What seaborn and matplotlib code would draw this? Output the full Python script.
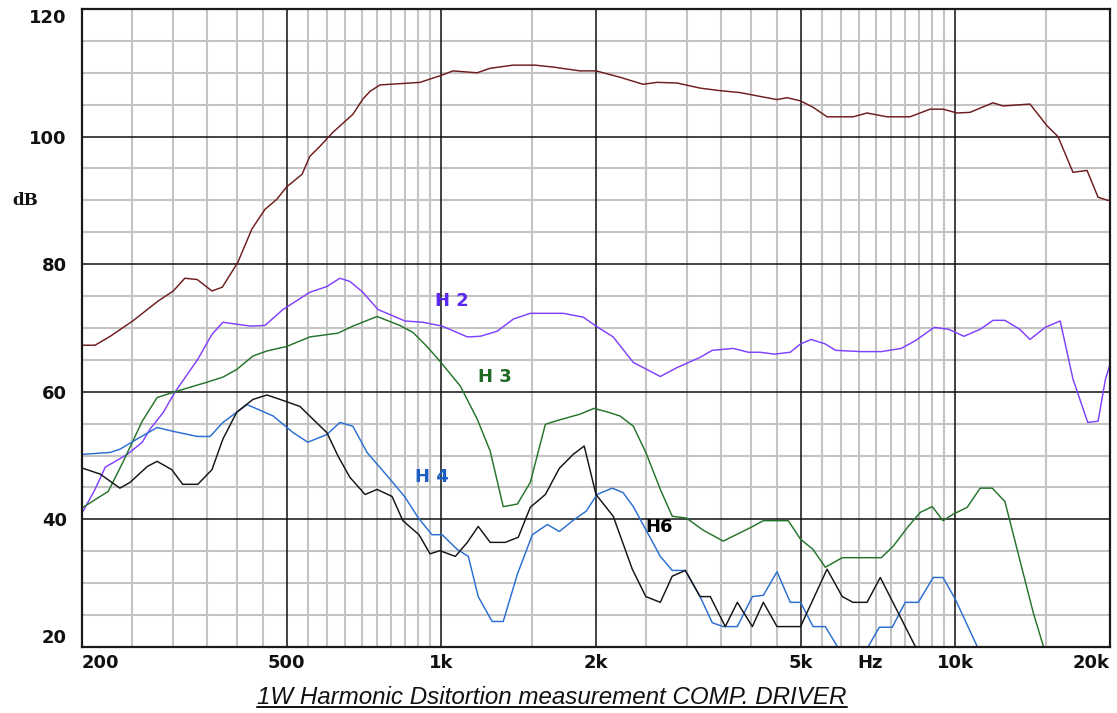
import matplotlib
matplotlib.use("Agg")
import matplotlib.pyplot as plt
import seaborn as sns
import pandas as pd
from matplotlib.lines import Line2D

# ---------------- data ----------------
resp_f = [200, 212, 227, 251, 281, 301, 317, 335, 358, 375, 402, 428, 454, 479, 500, 536, 555, 581, 616, 673,
          704, 727, 760, 909, 1000, 1054, 1174, 1244, 1379, 1521, 1650, 1862, 2000, 2228, 2469, 2629, 2876, 3188,
          3487, 3812, 4170, 4500, 4706, 5000, 5288, 5630, 6325, 6735, 7366, 8165, 8932, 9465, 10078, 10683, 11842,
          12383, 13975, 15083, 15844, 16943, 18045, 18957, 19820, 20000]
resp_db = [67.3, 67.3, 68.7, 71.1, 74.2, 75.8, 77.8, 77.6, 75.8, 76.4, 80.3, 85.5, 88.6, 90.2, 92.1, 94.1, 96.9,
           98.5, 100.7, 103.5, 105.9, 107.1, 108.1, 108.5, 109.6, 110.3, 110.0, 110.7, 111.2, 111.2, 110.9, 110.3,
           110.3, 109.3, 108.2, 108.5, 108.4, 107.6, 107.2, 106.9, 106.3, 105.8, 106.1, 105.6, 104.6, 103.1, 103.1,
           103.7, 103.1, 103.1, 104.3, 104.3, 103.7, 103.8, 105.3, 104.8, 105.1, 101.7, 100.0, 94.4, 94.7, 90.5,
           90.0, 90.0]

h2_f = [201, 212, 222, 230, 245, 262, 271, 288, 303, 336, 358, 376, 425, 454, 492, 555, 599, 635, 664, 704, 753,
        850, 921, 1004, 1124, 1191, 1285, 1381, 1490, 1727, 1889, 2000, 2160, 2364, 2668, 2876, 3188, 3367, 3700,
        3957, 4170, 4450, 4775, 5000, 5240, 5586, 5850, 6550, 7180, 7850, 8359, 9100, 9700, 10400, 11180, 11842,
        12490, 13350, 13975, 14960, 16000, 16943, 18100, 18960, 19600, 20000]
h2_db = [41.3, 44.7, 48.2, 48.9, 50.2, 52.1, 54.1, 56.8, 59.9, 65.1, 69.0, 70.9, 70.3, 70.4, 72.9, 75.6, 76.5,
         77.8, 77.3, 75.6, 72.9, 71.1, 70.9, 70.3, 68.6, 68.7, 69.5, 71.4, 72.3, 72.3, 71.7, 70.3, 68.6, 64.6, 62.4,
         63.8, 65.4, 66.5, 66.8, 66.2, 66.2, 65.9, 66.2, 67.5, 68.2, 67.5, 66.5, 66.3, 66.3, 66.8, 68.0, 70.1, 69.8,
         68.7, 69.8, 71.2, 71.2, 69.8, 68.2, 70.1, 71.1, 62.0, 55.2, 55.4, 62.0, 64.3]

h3_f = [201, 225, 240, 262, 280, 306, 350, 376, 400, 430, 458, 500, 555, 630, 673, 750, 831, 881, 938, 994, 1089,
        1175, 1245, 1320, 1406, 1490, 1594, 1682, 1862, 1982, 2113, 2228, 2364, 2500, 2668, 2814, 3000, 3234, 3537,
        3993, 4232, 4732, 5000, 5288, 5586, 6028, 7180, 7575, 8064, 8548, 9022, 9465, 9900, 10550, 11180, 11800,
        12490, 14180, 14840, 15300]
h3_db = [41.9, 44.4, 48.9, 55.4, 59.1, 60.1, 61.5, 62.3, 63.5, 65.6, 66.4, 67.1, 68.6, 69.2, 70.3, 71.8, 70.4,
         69.3, 67.1, 64.8, 60.9, 55.7, 50.7, 42.0, 42.4, 45.8, 54.9, 55.5, 56.5, 57.4, 56.8, 56.2, 54.6, 50.5, 44.7,
         40.5, 40.2, 38.3, 36.6, 38.7, 39.8, 39.8, 36.9, 35.3, 32.5, 34.0, 34.0, 35.8, 38.7, 41.1, 42.0, 39.8, 40.8,
         41.9, 44.9, 44.9, 42.8, 25.4, 20.1, 17.0]

h4_f = [201, 227, 237, 256, 280, 301, 335, 355, 376, 419, 471, 515, 550, 599, 635, 673, 717, 795, 850, 901, 959,
        1004, 1074, 1129, 1180, 1256, 1320, 1406, 1504, 1609, 1697, 1815, 1915, 2009, 2151, 2258, 2364, 2500, 2668,
        2814, 2984, 3188, 3367, 3537, 3767, 4029, 4232, 4500, 4775, 5000, 5288, 5586, 5894, 6300, 6765, 7115, 7541,
        7992, 8472, 9063, 9465, 10000, 11030, 11500]
h4_db = [50.2, 50.5, 51.0, 52.6, 54.4, 53.8, 53.0, 53.0, 55.2, 58.0, 56.2, 53.6, 52.1, 53.3, 55.2, 54.6, 50.5,
         46.3, 43.5, 40.3, 37.6, 37.6, 35.3, 34.2, 27.9, 24.0, 24.0, 31.4, 37.6, 39.2, 38.1, 40.0, 41.3, 43.9, 44.9,
         44.2, 42.0, 38.4, 34.2, 32.0, 32.0, 27.9, 23.8, 23.2, 23.2, 27.9, 28.1, 31.8, 27.0, 27.0, 23.2, 23.2, 20.1,
         17.0, 20.0, 23.1, 23.1, 27.0, 27.0, 30.9, 30.9, 27.5, 20.1, 18.0]

h6_f = [201, 217, 237, 248, 268, 280, 299, 314, 336, 358, 376, 400, 430, 458, 486, 531, 563, 599, 630, 664, 711,
        750, 802, 842, 905, 951, 994, 1065, 1124, 1180, 1245, 1332, 1412, 1490, 1594, 1697, 1806, 1897, 2000, 2160,
        2353, 2500, 2668, 2814, 2984, 3188, 3337, 3569, 3767, 4029, 4232, 4500, 5000, 5630, 6028, 6325, 6735, 7147,
        8359, 8800]
h6_db = [48.0, 47.1, 44.9, 45.8, 48.3, 49.1, 47.8, 45.5, 45.5, 47.8, 52.6, 56.8, 58.8, 59.5, 58.8, 57.7, 55.7,
         53.6, 49.9, 46.6, 43.9, 44.7, 43.6, 39.8, 37.6, 34.6, 35.1, 34.2, 36.4, 38.9, 36.4, 36.4, 37.2, 41.9, 43.9,
         48.0, 50.2, 51.5, 43.9, 40.5, 32.2, 27.9, 27.0, 31.1, 32.0, 27.9, 27.9, 23.2, 27.0, 23.2, 27.0, 23.2, 23.2,
         32.2, 27.9, 27.0, 27.0, 30.9, 20.1, 18.0]

series_names = ["SPL", "H 2", "H 3", "H 4", "H6"]
series_colors = ["#6e1c1c", "#8040ff", "#24742a", "#2a6ed2", "#141414"]
label_colors = ["#6e1c1c", "#5a28ee", "#1e6a22", "#1f5fc4", "#000000"]
label_pos_f = [None, 1050, 1270, 960, 2650]
label_pos_db = [None, 74.2, 62.3, 46.6, 38.8]

x_major = [200, 500, 1000, 2000, 5000, 10000, 20000]
x_major_labels = ["200", "500", "1k", "2k", "5k", "10k", "20k"]
x_minor = [250, 300, 350, 400, 450, 550, 600, 650, 700, 750, 800, 850, 900, 950, 1500,
           2500, 3000, 3500, 4000, 4500, 5500, 6000, 6500, 7000, 7500, 8000, 8500, 9000, 9500, 15000]
y_major = [20, 40, 60, 80, 100, 120]
y_minor = [25, 30, 35, 45, 50, 55, 65, 70, 75, 85, 90, 95, 105, 110, 115]
caption = "1W Harmonic Dsitortion measurement COMP. DRIVER"

# ---------------- build long table ----------------
frames = []
for name, f, d in zip(series_names, [resp_f, h2_f, h3_f, h4_f, h6_f],
                      [resp_db, h2_db, h3_db, h4_db, h6_db]):
    frames.append(pd.DataFrame({"freq": f, "dB": d, "series": name}))
df = pd.concat(frames, ignore_index=True)

# ---------------- figure ----------------
sns.set_theme(style="white")
plt.rcParams["font.family"] = ["DejaVu Sans"]

fig = plt.figure(figsize=(11.17, 7.13), dpi=100, facecolor="white")
ax = fig.add_axes([82 / 1117, 1 - 647 / 713, (1110 - 82) / 1117, (647 - 9) / 713])
ax.set_facecolor("white")

sns.lineplot(data=df, x="freq", y="dB", hue="series", hue_order=series_names,
             palette=dict(zip(series_names, series_colors)), estimator=None,
             linewidth=1.05, legend=False, ax=ax, zorder=3)

ax.set_xscale("log")
ax.set_xlim(200, 20000)
ax.set_ylim(20, 120)

# grid
for v in x_minor:
    ax.axvline(v, color="#c4c4c4", lw=1.5, zorder=0.5)
for v in y_minor:
    ax.axhline(v, color="#c4c4c4", lw=1.5, zorder=0.5)
for v in x_major:
    ax.axvline(v, color="#101010", lw=1.1, zorder=0.8)
for v in y_major:
    ax.axhline(v, color="#101010", lw=1.1, zorder=0.8)

ax.set_xticks(x_major)
ax.set_xticklabels(x_major_labels)
ax.xaxis.set_minor_locator(matplotlib.ticker.NullLocator())
ax.set_yticks(y_major)
ax.set_yticklabels([str(v) for v in y_major])
ax.tick_params(axis="both", length=0, labelsize=13, labelcolor="#111111")
ax.tick_params(axis="x", pad=5)
ax.tick_params(axis="y", pad=11)
for lab in ax.get_xticklabels() + ax.get_yticklabels():
    lab.set_fontweight("bold")
xl = ax.get_xticklabels()
xl[0].set_horizontalalignment("left")
xl[-1].set_horizontalalignment("right")
yl = ax.get_yticklabels()
yl[0].set_verticalalignment("bottom")
yl[-1].set_verticalalignment("top")

ax.set_xlabel("")
ax.set_ylabel("")
for s in ax.spines.values():
    s.set_color("#1a1a1a")
    s.set_linewidth(1.6)
    s.set_zorder(4)

# "Hz" and "dB" unit labels
ax.text(6820, -0.0105, "Hz", transform=ax.get_xaxis_transform(), ha="center", va="top",
        fontsize=13, fontweight="bold", color="#111111")
ax.text(-0.055, 90, "dB", transform=ax.get_yaxis_transform(), ha="center", va="center",
        fontsize=12, fontweight="bold", color="#111111", family="DejaVu Serif")

# series labels
for name, c, fx, fy in zip(series_names, label_colors, label_pos_f, label_pos_db):
    if fx is None:
        continue
    ax.text(fx, fy, name, color=c, fontsize=13, fontweight="bold", ha="center", va="center", zorder=5)

# caption with underline
cap = fig.text(552 / 1117, 1 - 697 / 713, caption, ha="center", va="center", fontsize=17.4,
               style="italic", family="Liberation Sans", color="#111111")
fig.canvas.draw()
bb = cap.get_window_extent()
y_ul = bb.y0 + 1.5
fig.add_artist(Line2D([bb.x0 / fig.bbox.width, bb.x1 / fig.bbox.width],
                      [y_ul / fig.bbox.height, y_ul / fig.bbox.height],
                      transform=fig.transFigure, color="#111111", lw=1.4))

fig.savefig("out.png", dpi=100, facecolor="white")
